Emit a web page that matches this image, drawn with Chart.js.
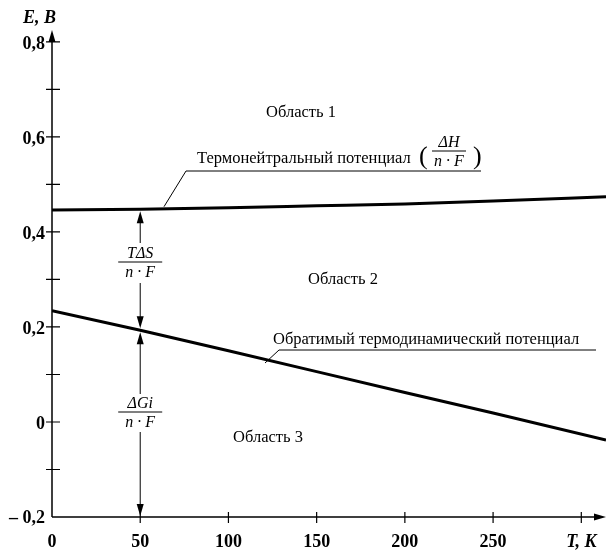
<!DOCTYPE html>
<html>
<head>
<meta charset="utf-8">
<script src="https://cdn.jsdelivr.net/npm/chart.js@4.4.1/dist/chart.umd.min.js"></script>
<style>
  html, body { margin: 0; padding: 0; background: #fff; }
  #wrap { width: 606px; height: 552px; position: relative; }
</style>
</head>
<body>
<div id="wrap"><canvas id="chart"></canvas></div>
<script>
// values
const temps = [0, 50, 100, 150, 200, 250, 314];
const thermoneutral = [0.446, 0.448, 0.451, 0.455, 0.459, 0.465, 0.474];
const reversible = [0.234, 0.193, 0.150, 0.106, 0.062, 0.019, -0.038];

const xTicks = [50, 100, 150, 200, 250, 300];
const xTickLabels = ['50', '100', '150', '200', '250', 'T, K'];
const yMajor = [-0.2, 0, 0.2, 0.4, 0.6, 0.8];
const yMajorLabels = ['\u2013 0,2', '0', '0,2', '0,4', '0,6', '0,8'];
const yMinor = [-0.1, 0.1, 0.3, 0.5, 0.7];

const serif = '"Liberation Serif", "DejaVu Serif", serif';

function pts(ys) {
    return temps.map(function (t, i) { return { x: t, y: ys[i] }; });
}

function arrowHead(ctx, x, y, dir) {
    // dir: 'up' | 'down' | 'right'
    ctx.beginPath();
    if (dir === 'up') {
        ctx.moveTo(x, y); ctx.lineTo(x - 3.5, y + 12); ctx.lineTo(x + 3.5, y + 12);
    } else if (dir === 'down') {
        ctx.moveTo(x, y); ctx.lineTo(x - 3.5, y - 12); ctx.lineTo(x + 3.5, y - 12);
    } else {
        ctx.moveTo(x, y); ctx.lineTo(x - 12, y - 3.5); ctx.lineTo(x - 12, y + 3.5);
    }
    ctx.closePath();
    ctx.fill();
}

function fraction(ctx, cx, cy, top, bottom, w) {
    ctx.textAlign = 'center';
    ctx.textBaseline = 'alphabetic';
    ctx.font = 'italic 16px ' + serif;
    ctx.fillText(top, cx, cy - 4);
    ctx.fillText(bottom, cx, cy + 15);
    ctx.beginPath();
    ctx.lineWidth = 1;
    ctx.moveTo(cx - w / 2, cy);
    ctx.lineTo(cx + w / 2, cy);
    ctx.stroke();
}

const drawing = {
    id: 'drawing',
    afterDraw: function (chart) {
        const ctx = chart.ctx;
        const xs = chart.scales.x, ys = chart.scales.y;
        const x0 = xs.getPixelForValue(0);
        const yb = ys.getPixelForValue(-0.2);
        const xr = chart.width;
        ctx.save();
        ctx.strokeStyle = '#000';
        ctx.fillStyle = '#000';

        // axes
        ctx.lineWidth = 1.5;
        ctx.beginPath();
        ctx.moveTo(x0, yb); ctx.lineTo(x0, 34);
        ctx.moveTo(x0, yb); ctx.lineTo(xr - 4, yb);
        ctx.stroke();
        arrowHead(ctx, x0, 30, 'up');
        arrowHead(ctx, xr, yb, 'right');

        // ticks
        ctx.lineWidth = 1.2;
        ctx.beginPath();
        yMajor.concat(yMinor).forEach(function (v) {
            if (v === -0.2) return;
            const py = ys.getPixelForValue(v);
            ctx.moveTo(x0 - 6, py); ctx.lineTo(x0 + 8, py);
        });
        xTicks.forEach(function (v) {
            const px = xs.getPixelForValue(v);
            ctx.moveTo(px, yb - 5); ctx.lineTo(px, yb + 6);
        });
        ctx.stroke();

        // tick labels
        ctx.font = 'bold 18px ' + serif;
        ctx.textAlign = 'right';
        ctx.textBaseline = 'middle';
        yMajor.forEach(function (v, i) {
            let lbl = yMajorLabels[i];
            if (v === -0.2) {
                // narrower gap after the dash, as in the picture
                ctx.fillText('0,2', x0 - 7, ys.getPixelForValue(v) + 1);
                ctx.fillText('\u2013', x0 - 34, ys.getPixelForValue(v) + 1);
                return;
            }
            ctx.fillText(lbl, x0 - 7, ys.getPixelForValue(v) + 2);
        });
        ctx.textAlign = 'center';
        ctx.fillText('0', x0, yb + 25);
        xTicks.forEach(function (v, i) {
            if (i === xTicks.length - 1) return;
            ctx.fillText(xTickLabels[i], xs.getPixelForValue(v), yb + 25);
        });
        ctx.font = 'bold italic 18px ' + serif;
        ctx.fillText(xTickLabels[xTickLabels.length - 1], xs.getPixelForValue(300), yb + 25);
        ctx.textAlign = 'left';
        ctx.fillText('E, B', 23, 18);

        // region labels
        ctx.font = '16.5px ' + serif;
        ctx.textAlign = 'left';
        ctx.textBaseline = 'middle';
        ctx.fillText('Область 1', 266, 113);
        ctx.fillText('Область 2', 308, 280);
        ctx.fillText('Область 3', 233, 438);

        // thermoneutral leader
        ctx.lineWidth = 1;
        ctx.beginPath();
        ctx.moveTo(164, ys.getPixelForValue(0.449) - 2);
        ctx.lineTo(186, 171);
        ctx.lineTo(481, 171);
        ctx.stroke();
        ctx.textBaseline = 'alphabetic';
        ctx.fillText('Термонейтральный потенциал', 197, 163);
        ctx.font = '26px ' + serif;
        ctx.fillText('(', 419, 164);
        ctx.fillText(')', 473, 164);
        fraction(ctx, 449, 151, '\u0394H', 'n \u00b7 F', 34);

        // reversible leader
        ctx.font = '16.5px ' + serif;
        ctx.textAlign = 'left';
        ctx.beginPath();
        ctx.moveTo(265, 363);
        ctx.lineTo(279, 350);
        ctx.lineTo(596, 350);
        ctx.stroke();
        ctx.fillText('Обратимый термодинамический потенциал', 273, 344);

        // dimension arrows at T = 50
        const ax = xs.getPixelForValue(temps[1]);
        const yTop = ys.getPixelForValue(thermoneutral[1]) + 2;
        const yMid = ys.getPixelForValue(reversible[1]);
        ctx.lineWidth = 1;
        ctx.beginPath();
        ctx.moveTo(ax, yTop + 4); ctx.lineTo(ax, 243);
        ctx.moveTo(ax, 283); ctx.lineTo(ax, yMid - 5);
        ctx.moveTo(ax, yMid + 5); ctx.lineTo(ax, 394);
        ctx.moveTo(ax, 432); ctx.lineTo(ax, yb - 5);
        ctx.stroke();
        arrowHead(ctx, ax, yTop, 'up');
        arrowHead(ctx, ax, yMid - 2, 'down');
        arrowHead(ctx, ax, yMid + 2, 'up');
        arrowHead(ctx, ax, yb - 1, 'down');
        fraction(ctx, ax, 262, 'T\u0394S', 'n \u00b7 F', 44);
        fraction(ctx, ax, 412, '\u0394Gi', 'n \u00b7 F', 44);

        ctx.restore();
    }
};

new Chart(document.getElementById('chart'), {
    type: 'line',
    data: {
        datasets: [
            {
                label: 'Термонейтральный потенциал',
                data: pts(thermoneutral),
                borderColor: '#000',
                borderWidth: 3,
                pointRadius: 0,
                cubicInterpolationMode: 'monotone'
            },
            {
                label: 'Обратимый термодинамический потенциал',
                data: pts(reversible),
                borderColor: '#000',
                borderWidth: 3,
                pointRadius: 0
            }
        ]
    },
    options: {
        responsive: true,
        maintainAspectRatio: false,
        animation: false,
        layout: { padding: { left: 52, right: 0, top: 31, bottom: 35 } },
        plugins: { legend: { display: false }, tooltip: { enabled: false } },
        scales: {
            x: { type: 'linear', min: 0, max: 314, display: false },
            y: { type: 'linear', min: -0.2, max: 0.823, display: false }
        }
    },
    plugins: [drawing]
});
</script>
</body>
</html>
